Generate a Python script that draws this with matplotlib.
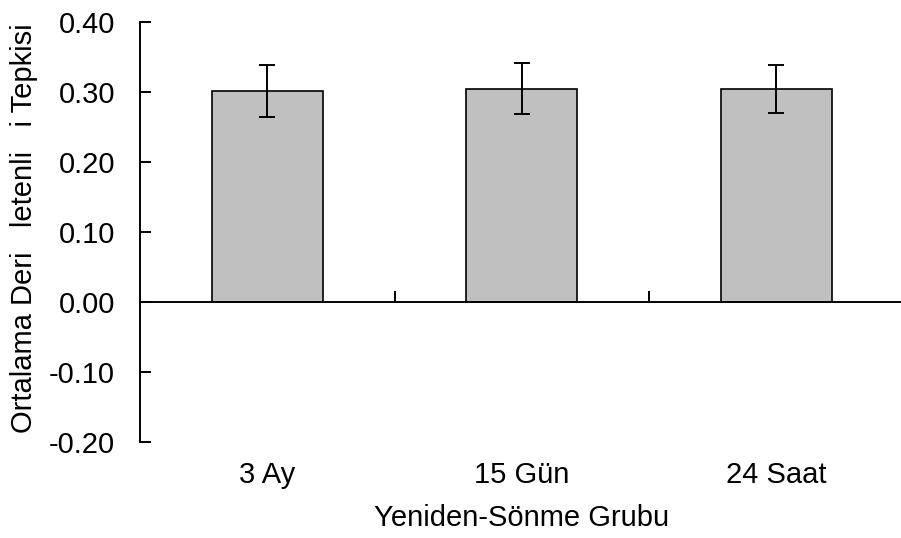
import numpy as np
import matplotlib
matplotlib.use("Agg")
import matplotlib.pyplot as plt

plt.rcParams['font.family'] = ['Liberation Sans', 'DejaVu Sans']

# data
groups = ["3 Ay", "15 Gün", "24 Saat"]
means = [0.302, 0.305, 0.304]
errors = [0.037, 0.036, 0.034]
yticks = [-0.20, -0.10, 0.00, 0.10, 0.20, 0.30, 0.40]

fs = 21

fig = plt.figure(figsize=(9.01, 5.38), dpi=100)
ax = fig.add_axes([140/901, 1-442/538, 763.5/901, 420/538])

x = np.arange(len(groups))
ax.bar(x, means, width=0.435, color="#C0C0C0", edgecolor="black", linewidth=1.2, zorder=2)
ax.errorbar(x, means, yerr=errors, fmt="none", ecolor="black", elinewidth=1.4,
            capsize=6, capthick=1.4, zorder=3)

ax.set_xlim(-0.5, 2.5)
ax.set_ylim(-0.20, 0.40)
ax.set_yticks(yticks)
ax.set_yticklabels(["%.2f" % v for v in yticks])

for s in ["top", "right"]:
    ax.spines[s].set_visible(False)
ax.spines["bottom"].set_position(("data", 0))
ax.spines["bottom"].set_linewidth(1.4)
ax.spines["left"].set_linewidth(1.4)

ax.tick_params(axis="y", direction="in", length=8, width=1.4, pad=18, labelsize=fs)
ax.set_xticks([0.5, 1.5, 2.5])
ax.set_xticklabels([])
ax.tick_params(axis="x", direction="in", length=8, width=1.4)

for i, g in enumerate(groups):
    ax.text(i, -0.078, g, transform=ax.get_xaxis_transform(), ha="center", va="center",
            fontsize=fs)
ax.text(0.5, -0.181, "Yeniden-Sönme Grubu", transform=ax.transAxes, ha="center",
        va="center", fontsize=fs)

ax.set_ylabel("Ortalama Deri   letenli   i Tepkisi", fontsize=fs)
ax.yaxis.set_label_coords(-0.133, 0.508)

fig.savefig("out.png", dpi=100)
